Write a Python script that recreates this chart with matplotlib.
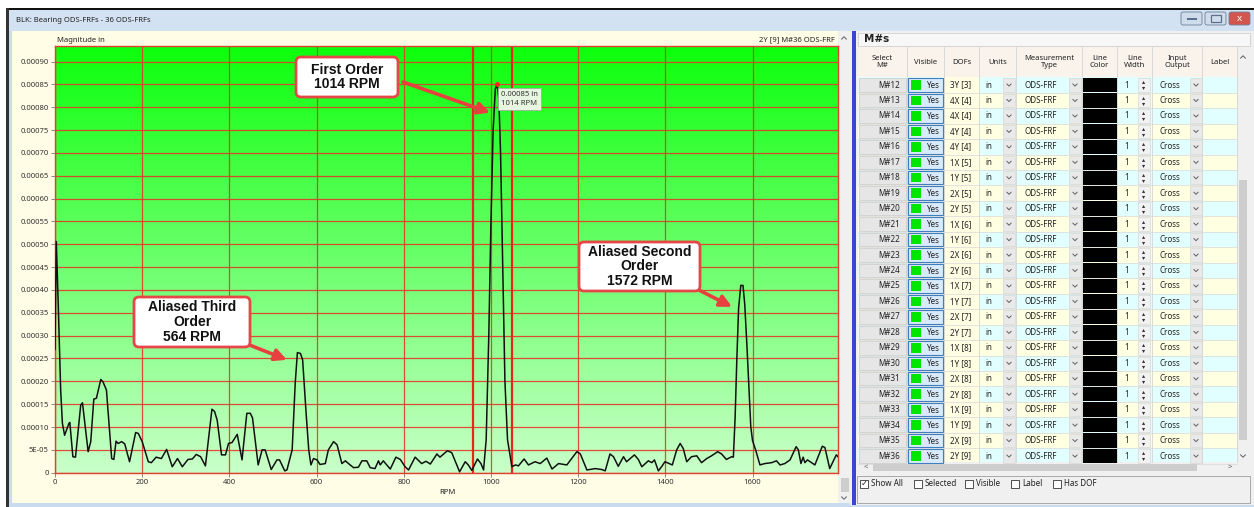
import numpy as np
import matplotlib
matplotlib.use('Agg')
import matplotlib.pyplot as plt
from matplotlib.patches import Rectangle, FancyBboxPatch

# ODS-FRF magnitude (M#36, 2Y [9]), RPM vs 1e-5 in
rpm = [0, 3, 8, 13, 17, 22, 32, 34, 41, 47, 59, 63, 76, 82, 89, 95, 105, 110, 118, 130,
       135, 140, 145, 153, 160, 171, 185, 191, 200, 214, 221, 232, 244, 256, 269, 281, 292, 305, 315, 324,
       334, 345, 360, 366, 372, 382, 391, 398, 406, 418, 429, 440, 448, 453, 466, 475, 482, 496, 509, 515,
       527, 532, 544, 551, 556, 563, 568, 576, 582, 587, 593, 601, 608, 620, 627, 639, 647, 658, 666, 677,
       685, 696, 704, 715, 723, 734, 742, 746, 753, 761, 769, 782, 792, 803, 811, 826, 841, 851, 861, 876,
       883, 900, 910, 928, 941, 948, 956, 969, 977, 983, 989, 995, 1000, 1005, 1010, 1014, 1018, 1022, 1027, 1032,
       1038, 1048, 1056, 1063, 1076, 1086, 1101, 1113, 1128, 1140, 1155, 1174, 1197, 1205, 1220, 1227, 1239, 1254, 1262, 1273,
       1281, 1292, 1304, 1311, 1329, 1338, 1346, 1361, 1369, 1375, 1384, 1392, 1399, 1416, 1426, 1434, 1441, 1449, 1460, 1472,
       1483, 1495, 1506, 1520, 1529, 1540, 1552, 1556, 1560, 1564, 1568, 1573, 1578, 1582, 1587, 1592, 1596, 1600, 1607, 1617,
       1628, 1644, 1655, 1663, 1674, 1686, 1700, 1705, 1711, 1716, 1720, 1726, 1743, 1760, 1766, 1777, 1792, 1796]
mag_x1e5 = [27, 50.6, 35, 18.1, 10.8, 8.2, 10.8, 11.0, 3.5, 3.4, 14.8, 15.3, 4.6, 6.8, 16.1, 16.3, 20.4, 19.9, 18.1, 3.1,
            2.9, 6.9, 6.4, 6.8, 6.3, 2.4, 8.8, 8.6, 6.8, 2.4, 2.2, 3.4, 3.1, 5.1, 1.3, 3.1, 1.3, 2.9, 3.0, 4.0,
            3.5, 1.5, 13.9, 13.4, 11.5, 3.9, 3.9, 6.4, 6.6, 8.4, 2.8, 13.0, 13.0, 12.0, 1.7, 5.0, 5.0, 0.7, 2.8, 2.8,
            0.4, 0.6, 5.0, 19.6, 26.3, 26.1, 24.7, 13.0, 5.0, 1.7, 3.1, 2.8, 1.8, 2.0, 5.0, 6.8, 6.1, 2.0, 2.6, 1.7,
            1.1, 1.2, 2.6, 2.6, 1.1, 0.9, 2.6, 1.7, 2.6, 1.7, 0.8, 3.4, 2.9, 1.3, 0.6, 3.4, 2.0, 2.5, 1.9, 4.1,
            3.4, 4.8, 4.4, 0.2, 2.4, 1.7, 0.5, 3.0, 2.0, 0.6, 7.2, 30, 55, 75, 84, 85, 82, 70, 45, 20,
            7.2, 1.3, 1.7, 1.5, 3.0, 1.7, 2.4, 2.0, 3.2, 0.8, 2.0, 1.7, 4.6, 4.1, 0.6, 0.7, 0.9, 0.7, 0.4, 4.1,
            3.5, 1.4, 3.5, 2.4, 3.9, 2.9, 1.3, 2.6, 2.2, 2.8, 0.4, 1.4, 2.4, 1.7, 5.0, 6.4, 5.3, 2.4, 3.5, 3.7,
            2.2, 3.1, 3.7, 4.6, 4.1, 2.9, 3.5, 3.4, 12, 25, 36, 41, 41, 37, 28, 18, 10, 7.0, 5.0, 1.7,
            2.0, 2.2, 2.6, 1.7, 2.0, 2.8, 5.7, 5.0, 2.0, 3.4, 2.2, 2.8, 1.7, 5.8, 5.5, 0.9, 3.9, 3.5]

x_ticks = [0, 200, 400, 600, 800, 1000, 1200, 1400, 1600]
y_ticks = [0, 5e-5, 1e-4, 1.5e-4, 2e-4, 2.5e-4, 3e-4, 3.5e-4, 4e-4, 4.5e-4,
           5e-4, 5.5e-4, 6e-4, 6.5e-4, 7e-4, 7.5e-4, 8e-4, 8.5e-4, 9e-4]
y_tick_labels = ['0', '5E-05', '0.00010', '0.00015', '0.00020', '0.00025', '0.00030', '0.00035',
                 '0.00040', '0.00045', '0.00050', '0.00055', '0.00060', '0.00065', '0.00070',
                 '0.00075', '0.00080', '0.00085', '0.00090']
cursor_rpm = [958, 1048]

callout_texts = ['First Order\n1014 RPM', 'Aliased Third\nOrder\n564 RPM', 'Aliased Second\nOrder\n1572 RPM']
# where each callout arrow points (RPM, magnitude)
callout_targets = [(998, 78.8e-5), (532, 24.7e-5), (1553, 36.3e-5)]

m_numbers = ['M#12', 'M#13', 'M#14', 'M#15', 'M#16', 'M#17', 'M#18', 'M#19', 'M#20', 'M#21', 'M#22', 'M#23',
             'M#24', 'M#25', 'M#26', 'M#27', 'M#28', 'M#29', 'M#30', 'M#31', 'M#32', 'M#33', 'M#34', 'M#35', 'M#36']
dofs = ['3Y [3]', '4X [4]', '4X [4]', '4Y [4]', '4Y [4]', '1X [5]', '1Y [5]', '2X [5]', '2Y [5]', '1X [6]',
        '1Y [6]', '2X [6]', '2Y [6]', '1X [7]', '1Y [7]', '2X [7]', '2Y [7]', '1X [8]', '1Y [8]', '2X [8]',
        '2Y [8]', '1X [9]', '1Y [9]', '2X [9]', '2Y [9]']
headers = ['Select\nM#', 'Visible', 'DOFs', 'Units', 'Measurement\nType', 'Line\nColor', 'Line\nWidth',
           'Input\nOutput', 'Label']
show_options = ['Show All', 'Selected', 'Visible', 'Label', 'Has DOF']

UI_FONT = ['Noto Sans', 'DejaVu Sans']
W, H = 1254, 507


def rect(ui, x0, y0, x1, y1, fc, ec='none', lw=0, z=1):
    ui.add_patch(Rectangle((x0, y0), x1 - x0, y1 - y0, facecolor=fc, edgecolor=ec, linewidth=lw, zorder=z))


def txt(ui, x, y, s, size=6, ha='center', color='#222222', family=UI_FONT, **kw):
    ui.text(x, y, s, fontsize=size, ha=ha, va='center', color=color, family=family, zorder=6, **kw)


def chevron(ui, xc, yc, d=2.5, up=False, color='#606060'):
    s = -1 if up else 1
    ui.plot([xc - d, xc, xc + d], [yc - s * d / 2, yc + s * d / 2, yc - s * d / 2],
            color=color, lw=0.7, zorder=6, solid_capstyle='round')


def draw_window(ui):
    rect(ui, 6, 8, W, H, '#c9dbef')
    rect(ui, 6, 8, W, 10, '#111111', z=2)
    rect(ui, 6, 8, 9, H, '#333333', z=2)
    rect(ui, 9, 10, W, 31, '#d3e2f3', z=2)
    txt(ui, 16, 20, 'BLK: Bearing ODS-FRFs - 36 ODS-FRFs', size=5.5, ha='left')
    # caption buttons
    for x0, fc in [(1181, '#cfdcec'), (1205, '#cfdcec'), (1229, '#d2564e')]:
        ui.add_patch(FancyBboxPatch((x0, 12), 21, 13, boxstyle='round,pad=0,rounding_size=2',
                                    fc=fc, ec='#6d7f97', lw=0.6, zorder=3))
    rect(ui, 1187, 18, 1197, 20, '#5a6f8c', z=4)
    rect(ui, 1211, 15, 1221, 22, 'none', ec='#5a6f8c', lw=0.9, z=4)
    txt(ui, 1239.5, 18.5, 'x', size=7, color='white', fontweight='bold')
    # chart pane
    rect(ui, 12, 31, 838, 503, '#fffde6', z=2)
    rect(ui, 838, 31, 850, 503, '#f0f0f0', z=2)
    rect(ui, 841, 478, 849, 492, '#cdcdcd', z=3)
    chevron(ui, 844, 38, up=True)
    chevron(ui, 844, 498)
    txt(ui, 57, 40, 'Magnitude in', size=5.5, ha='left')
    txt(ui, 835, 40, '2Y [9] M#36 ODS-FRF', size=5.5, ha='right')
    txt(ui, 447, 492, 'RPM', size=5.5)


def draw_table(ui):
    rect(ui, 850, 31, W, 505, '#f0f0f0', z=2)
    rect(ui, 852, 31, 856, 505, '#3a45d8', z=3)
    rect(ui, 858, 33, 1250, 46, '#f7f7f7', ec='#d0d0d0', lw=0.6, z=3)
    txt(ui, 864, 39.5, 'M#s', size=7.5, ha='left', fontweight='bold', family='DejaVu Sans')

    edges = [858, 907, 944, 979, 1016, 1082, 1117, 1152, 1202, 1237]
    rect(ui, 858, 47, 1237, 77, '#faf3ec', z=3)
    for i, h in enumerate(headers):
        txt(ui, (edges[i] + edges[i + 1]) / 2, 62, h, size=5.5, linespacing=1.1)
        ui.plot([edges[i + 1], edges[i + 1]], [47, 462], color='#d4d4d4', lw=0.6, zorder=4)

    row_h = 15.46
    for i, (m, d) in enumerate(zip(m_numbers, dofs)):
        yc = 85 + i * row_h
        y0, y1 = yc - row_h / 2, yc + row_h / 2
        bg = '#e2ffff' if i % 2 == 0 else '#ffffe2'
        rect(ui, 858, y0, 1237, y1, bg, z=3)
        rect(ui, 944, y0, 979, y1, '#fffde2', z=3)
        rect(ui, 859, y0 + 1, 906, y1 - 1, '#e6e6e6', ec='#c8c8c8', lw=0.5, z=4)
        txt(ui, 889, yc, m, size=5.8)
        rect(ui, 908, y0 + 1, 943, y1 - 1, '#d8eafb', ec='#3f7fbf', lw=0.8, z=4)
        rect(ui, 910.5, y0 + 3, 921, y1 - 3, '#00e600', z=5)
        txt(ui, 932, yc + 0.5, 'Yes', size=5.8)
        txt(ui, 961, yc, d, size=5.8)
        txt(ui, 989, yc, 'in', size=5.8)
        txt(ui, 1041, yc, 'ODS-FRF', size=5.8)
        txt(ui, 1127, yc, '1', size=5.8)
        txt(ui, 1170, yc, 'Cross', size=5.8)
        for x0, x1 in [(1003, 1015), (1069, 1081), (1190, 1202)]:
            rect(ui, x0, y0 + 1, x1, y1 - 1, '#e9e9e9', ec='#d0d0d0', lw=0.4, z=4)
            chevron(ui, (x0 + x1) / 2, yc, d=2.2)
        rect(ui, 1082.5, y0 + 0.5, 1116.5, y1 - 0.5, '#000000', z=4)
        rect(ui, 1138, y0 + 1, 1150, y1 - 1, '#f2f2f2', ec='#d0d0d0', lw=0.4, z=4)
        txt(ui, 1144, yc - 3, '▴', size=4.5, color='#303030', family='DejaVu Sans')
        txt(ui, 1144, yc + 3, '▾', size=4.5, color='#303030', family='DejaVu Sans')
        ui.plot([858, 1237], [y1, y1], color='#d8d8d8', lw=0.5, zorder=4)

    # scroll bars
    rect(ui, 1237, 47, 1249, 462, '#f0f0f0', z=3)
    rect(ui, 1239, 180, 1247, 440, '#cdcdcd', z=4)
    chevron(ui, 1243, 57, up=True)
    chevron(ui, 1243, 456)
    rect(ui, 858, 462, 1237, 473, '#f0f0f0', z=3)
    rect(ui, 873, 464, 1197, 471, '#cdcdcd', z=4)
    txt(ui, 866, 467.5, '<', size=5.5, color='#505050')
    txt(ui, 1230, 467.5, '>', size=5.5, color='#505050')

    # filter check boxes
    rect(ui, 857, 476, 1250, 503, '#f0f0f0', ec='#a8a8a8', lw=0.7, z=3)
    box_x = [860, 914, 965, 1011, 1053]
    for i, (bx, label) in enumerate(zip(box_x, show_options)):
        rect(ui, bx, 479.5, bx + 8, 487.5, 'white', ec='#333333', lw=0.6, z=4)
        if i == 0:
            txt(ui, bx + 4, 483.5, '✓', size=6, family='DejaVu Sans')
        txt(ui, bx + 11, 483.5, label, size=5.8, ha='left')


def draw_chart(fig, ui):
    x = np.array(rpm)
    y = np.array(mag_x1e5) * 1e-5
    ax = fig.add_axes([55 / W, 1 - 472.7 / H, 783 / W, 426.7 / H])

    top = np.array([0.05, 1.0, 0.05])
    bottom = np.array([0.79, 1.0, 0.79])
    t = np.linspace(0, 1, 256)[:, None]
    grad = (top * (1 - t) + bottom * t)[:, None, :]
    ax.imshow(grad, extent=[0, 1, 0, 1], transform=ax.transAxes, aspect='auto', zorder=0)

    ax.set_xticks(x_ticks)
    ax.set_yticks(y_ticks)
    ax.set_yticklabels(y_tick_labels)
    ax.grid(True, color='#e23a2a', lw=0.9, alpha=0.9)
    ax.set_axisbelow(True)
    for v in cursor_rpm:
        ax.axvline(v, color='#e8261c', lw=1.6, zorder=1.5)

    ax.plot(x, y, color='#111111', lw=1.1, zorder=3)

    k = int(np.argmax(y))
    ax.plot(x[k], y[k], 'o', color='#ff2020', ms=2.5, zorder=4)
    ax.text(x[k] + 9, y[k] - 1.5e-5, f'{y[k]:.5f} in\n{x[k]} RPM', fontsize=5.5, va='top', ha='left',
            family=UI_FONT, zorder=5, linespacing=1.35, color='#333333',
            bbox=dict(boxstyle='square,pad=0.4', fc='#e8f5e0', ec='#a0b0a0', lw=0.6))

    # callout boxes in screen pixels, arrow tails in pixels, heads in data
    boxes = [(296, 57, 398, 97), (134, 297, 250, 347), (579, 242, 700, 291)]
    tails = [(403, 82), (242, 342), (685, 283)]
    for s, (x0, y0, x1, y1), tail, head in zip(callout_texts, boxes, tails, callout_targets):
        ax.annotate('', xy=head, xycoords='data', xytext=tail, textcoords=ui.transData, zorder=6,
                    arrowprops=dict(arrowstyle='-|>,head_length=0.7,head_width=0.35',
                                    color='#e8403f', lw=2.6, shrinkA=0, shrinkB=0))
        ax.add_patch(FancyBboxPatch((x0, y0), x1 - x0, y1 - y0, boxstyle='round,pad=0,rounding_size=5',
                                    transform=ui.transData, fc='white', ec='#e64646', lw=2,
                                    zorder=7, clip_on=False))
        ax.text((x0 + x1) / 2, (y0 + y1) / 2, s, transform=ui.transData, ha='center', va='center',
                fontsize=10, fontweight='bold', family='Liberation Sans', linespacing=1.05,
                zorder=8, color='#111111')

    ax.set_xlim(0, 1796)
    ax.set_ylim(0, 93.4e-5)
    ax.tick_params(labelsize=5.5, labelcolor='#333333', color='#777777', length=3, width=0.6, pad=1.5)
    for lab in ax.get_xticklabels() + ax.get_yticklabels():
        lab.set_family(UI_FONT)
    for sp in ax.spines.values():
        sp.set_color('#e04030')
        sp.set_linewidth(1.0)
    return ax


def main():
    fig = plt.figure(figsize=(W / 100, H / 100), dpi=100)
    ui = fig.add_axes([0, 0, 1, 1])
    ui.set_xlim(0, W)
    ui.set_ylim(H, 0)
    ui.axis('off')
    draw_window(ui)
    draw_table(ui)
    draw_chart(fig, ui)
    fig.savefig('out.png', dpi=100, facecolor='white')


if __name__ == '__main__':
    main()
